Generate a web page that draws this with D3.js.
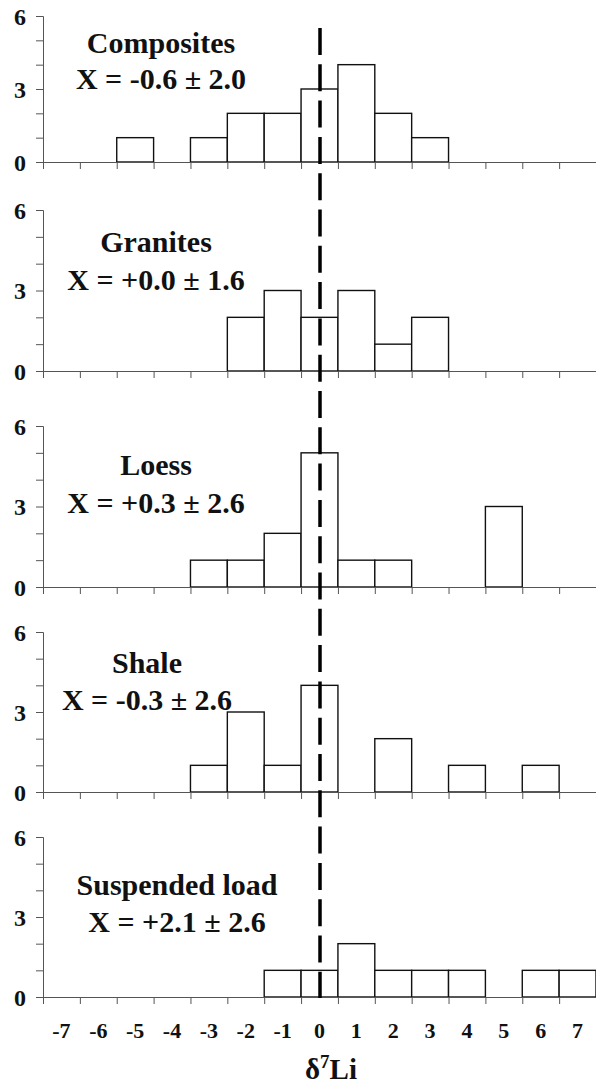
<!DOCTYPE html>
<html>
<head>
<meta charset="utf-8">
<script src="https://cdn.jsdelivr.net/npm/d3@7/dist/d3.min.js"></script>
<style>
  html, body { margin: 0; padding: 0; background: #fff; }
  svg { display: block; }
  text { font-family: "Liberation Serif", "Times New Roman", serif; font-weight: bold; fill: #111; }
</style>
</head>
<body>
<svg id="chart" width="596" height="1087"></svg>
<script>
// ---- data ----
const bins = [-7, -6, -5, -4, -3, -2, -1, 0, 1, 2, 3, 4, 5, 6, 7];
const categories = ["Composites", "Granites", "Loess", "Shale", "Suspended load"];
const meanLabels = ["X = -0.6 \u00b1 2.0", "X = +0.0 \u00b1 1.6", "X = +0.3 \u00b1 2.6", "X = -0.3 \u00b1 2.6", "X = +2.1 \u00b1 2.6"];
const composites = [0, 0, 1, 0, 1, 2, 2, 3, 4, 2, 1, 0, 0, 0, 0];
const granites   = [0, 0, 0, 0, 0, 2, 3, 2, 3, 1, 2, 0, 0, 0, 0];
const loess      = [0, 0, 0, 0, 1, 1, 2, 5, 1, 1, 0, 0, 3, 0, 0];
const shale      = [0, 0, 0, 0, 1, 3, 1, 4, 0, 2, 0, 1, 0, 1, 0];
const suspended  = [0, 0, 0, 0, 0, 0, 1, 1, 2, 1, 1, 1, 0, 1, 1];
const yTickLabels = [0, 3, 6];
const xAxisTitle = "Li";

const seriesList = [composites, granites, loess, shale, suspended];

// ---- layout ----
const panels = [
  { top: 16,  bottom: 162, labelX: 161, nameY: 53,  meanY: 89 },
  { top: 210, bottom: 371, labelX: 156, nameY: 252, meanY: 290 },
  { top: 426, bottom: 587, labelX: 156, nameY: 475, meanY: 513 },
  { top: 632, bottom: 792, labelX: 147, nameY: 673, meanY: 710 },
  { top: 837, bottom: 997, labelX: 177, nameY: 895, meanY: 932 }
];

const svg = d3.select("#chart");
const x = d3.scaleLinear().domain([-7.5, 7.5]).range([43, 596]);
const edges = d3.range(-7.5, 7.51, 1);

panels.forEach((p, i) => {
  const y = d3.scaleLinear().domain([0, 6]).range([p.bottom, p.top]);
  const g = svg.append("g");
  const vals = seriesList[i];

  // bars
  g.selectAll("rect.bar")
    .data(bins.map((b, j) => ({ b, v: vals[j] })).filter(d => d.v > 0))
    .enter().append("rect")
    .attr("class", "bar")
    .attr("x", d => x(d.b - 0.5))
    .attr("width", d => x(d.b + 0.5) - x(d.b - 0.5))
    .attr("y", d => y(d.v))
    .attr("height", d => y(0) - y(d.v))
    .attr("fill", "#fff")
    .attr("stroke", "#111")
    .attr("stroke-width", 1.4);

  // y axis
  const yAxis = d3.axisLeft(y)
    .tickValues(d3.range(0, 7))
    .tickSize(7)
    .tickFormat(d => yTickLabels.includes(d) ? d : "");
  const ya = g.append("g").attr("transform", `translate(${x(-7.5)},0)`).call(yAxis);
  ya.select(".domain").attr("stroke", "#555").attr("stroke-width", 1);
  ya.selectAll(".tick line").attr("stroke", "#555");
  ya.selectAll(".tick text")
    .attr("x", -17)
    .attr("dy", "0.35em")
    .style("font-family", "'Liberation Serif', serif")
    .style("font-weight", "bold")
    .style("font-size", "24px")
    .attr("fill", "#111");

  // x axis
  const xAxis = d3.axisBottom(x).tickValues(edges).tickSize(7).tickFormat("").tickSizeOuter(0);
  const xa = g.append("g").attr("transform", `translate(0,${y(0)})`).call(xAxis);
  xa.select(".domain").attr("stroke", "#555").attr("stroke-width", 1);
  xa.selectAll(".tick line").attr("stroke", "#555");

  // labels
  g.append("text").attr("x", p.labelX).attr("y", p.nameY)
    .attr("text-anchor", "middle").style("font-size", "30px").text(categories[i]);
  g.append("text").attr("x", p.labelX).attr("y", p.meanY)
    .attr("text-anchor", "middle").style("font-size", "30px").text(meanLabels[i]);

  // bottom tick labels
  if (i === panels.length - 1) {
    g.selectAll("text.xl").data(bins).enter().append("text")
      .attr("class", "xl")
      .attr("x", d => x(d))
      .attr("y", 1038)
      .attr("text-anchor", "middle")
      .style("font-size", "22px")
      .text(d => d);
  }
});

// dashed reference line at 0
svg.append("line")
  .attr("x1", x(0) + 0.5).attr("x2", x(0) + 0.5)
  .attr("y1", 28).attr("y2", 998)
  .attr("stroke", "#000")
  .attr("stroke-width", 3.5)
  .attr("stroke-dasharray", "27,9.3");

// axis title
const t = svg.append("text").attr("x", 331).attr("y", 1079)
  .attr("text-anchor", "middle").style("font-size", "29px");
t.append("tspan").text("\u03b4");
t.append("tspan").attr("dy", -11).style("font-size", "19px").text("7");
t.append("tspan").attr("dy", 11).text(xAxisTitle);
</script>
</body>
</html>
